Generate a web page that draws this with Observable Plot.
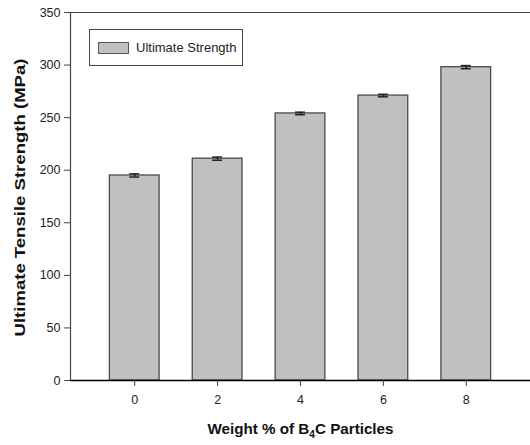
<!DOCTYPE html>
<html>
<head>
<meta charset="utf-8">
<script src="https://cdn.jsdelivr.net/npm/d3@7"></script>
<script src="https://cdn.jsdelivr.net/npm/@observablehq/plot@0.6"></script>
<style>
  html, body { margin: 0; padding: 0; background: #fff; }
  #wrap { position: relative; width: 530px; height: 445px; font-family: "Liberation Sans", Arial, sans-serif; }
  #legend { position: absolute; left: 89px; top: 29px; width: 154px; height: 37px; border: 1px solid #444; box-sizing: border-box; background: #fff; display: flex; align-items: center; }
  #legend .sw { width: 29px; height: 10px; background: #c0c0c0; border: 1px solid #555; margin-left: 8px; margin-right: 7px; }
  #legend span { font-size: 13px; color: #222; }
</style>
</head>
<body>
<div id="wrap"></div>
<script>
const weights = [0, 2, 4, 6, 8];
const strength = [195, 211, 254, 271, 298];
const errors = [1.5, 1.5, 1.2, 1.2, 1.5];
const yTicks = [0, 50, 100, 150, 200, 250, 300, 350];
const xTicks = [0, 2, 4, 6, 8];
const xDomain = [-1.55, 9.55];
const yDomain = [0, 350];
const barHalf = 0.6;
const capHalf = 0.12;
const legendLabel = "Ultimate Strength";
const yTitle = "Ultimate Tensile Strength (MPa)";
const xTitle = "Weight % of B4C Particles";

const data = weights.map((w, i) => ({w, v: strength[i], e: errors[i]}));

const chart = Plot.plot({
  width: 530,
  height: 445,
  marginLeft: 70,
  marginRight: 0,
  marginTop: 12,
  marginBottom: 65,
  style: {fontFamily: "Liberation Sans, Arial, sans-serif", fontSize: "12px", color: "#222", background: "#fff"},
  x: {type: "linear", domain: xDomain},
  y: {domain: yDomain},
  marks: [
    Plot.rectY(data, {x1: d => d.w - barHalf, x2: d => d.w + barHalf, y1: 0, y2: "v", fill: "#c0c0c0", stroke: "#4a4a4a", strokeWidth: 1.3}),
    Plot.ruleX(data, {x: "w", y1: d => d.v - d.e, y2: d => d.v + d.e, stroke: "#222", strokeWidth: 1.5}),
    Plot.ruleY(data, {x1: d => d.w - capHalf, x2: d => d.w + capHalf, y: d => d.v + d.e, stroke: "#222", strokeWidth: 1.5}),
    Plot.ruleY(data, {x1: d => d.w - capHalf, x2: d => d.w + capHalf, y: d => d.v - d.e, stroke: "#222", strokeWidth: 1.5}),
    Plot.ruleX([xDomain[0]], {stroke: "#444", strokeWidth: 1.2}),
    Plot.ruleY([yDomain[1]], {stroke: "#444", strokeWidth: 1.2}),
    Plot.ruleY([0], {stroke: "#000", strokeWidth: 1.5}),
    Plot.axisY({ticks: yTicks, tickSize: 6, tickPadding: 4, label: null, stroke: "#444", fontSize: 12.5}),
    Plot.axisX({ticks: xTicks, tickSize: 6, tickPadding: 9, label: null, stroke: "#444", fontSize: 12.5}),
    Plot.text([yTitle], {frameAnchor: "left", textAnchor: "middle", dx: -50, dy: 1, rotate: -90, fontWeight: "bold", fontSize: 14, fill: "#111"}),
    Plot.text([xTitle], {frameAnchor: "bottom", dy: 53, fontWeight: "bold", fontSize: 15, fill: "#111"})
  ]
});

// stretch titles to match the reference and make the "4" in B4C a subscript
chart.querySelectorAll("text").forEach(t => {
  if (t.textContent === yTitle) {
    t.setAttribute("textLength", "278");
    t.setAttribute("lengthAdjust", "spacingAndGlyphs");
  }
  if (t.textContent === xTitle) {
    t.textContent = "";
    const parts = [["Weight % of B", null], ["4", "sub"], ["C Particles", "back"]];
    for (const [s, k] of parts) {
      const ts = document.createElementNS("http://www.w3.org/2000/svg", "tspan");
      ts.textContent = s;
      if (k === "sub") { ts.setAttribute("dy", "4"); ts.setAttribute("font-size", "10"); }
      if (k === "back") { ts.setAttribute("dy", "-4"); }
      t.appendChild(ts);
    }
    t.setAttribute("textLength", "186");
    t.setAttribute("lengthAdjust", "spacingAndGlyphs");
  }
});

const wrap = document.getElementById("wrap");
wrap.appendChild(chart);
const lg = document.createElement("div");
lg.id = "legend";
lg.innerHTML = '<div class="sw"></div><span></span>';
lg.querySelector("span").textContent = legendLabel;
wrap.appendChild(lg);
</script>
</body>
</html>
